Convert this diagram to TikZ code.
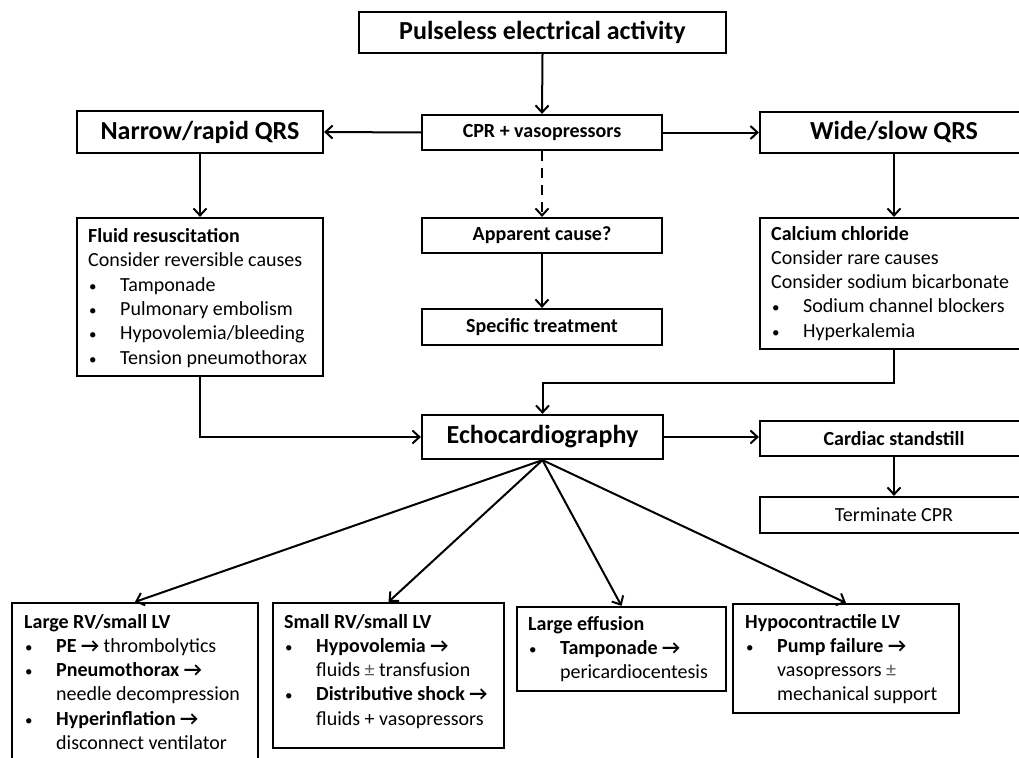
\documentclass[tikz,border=0pt]{standalone}
\usepackage{fontspec}
\setmainfont{Carlito}
\usetikzlibrary{arrows.meta}
\begin{document}
\begin{tikzpicture}[x=1pt,y=-1pt,
  box/.style={draw, line width=2.2pt, inner sep=0pt},
  big/.style={font=\fontsize{26}{31}\selectfont\bfseries},
  med/.style={font=\fontsize{20}{24}\selectfont\bfseries},
  body/.style={font=\fontsize{20}{24.3}\selectfont, inner sep=0pt, anchor=base west, align=flush left},
  conn/.style={line width=2pt, -{Straight Barb[length=7pt,width=13pt,line width=2pt]}},
]
\useasboundingbox (0,0) rectangle (1019,757);
\clip (0,0) rectangle (1019,757);
\newcommand{\bul}{\makebox[32pt][l]{\hspace*{1pt}{\fontsize{15}{15}\selectfont\textbullet}}}
\newcommand{\ind}{\hspace*{32pt}}
\newcommand{\pmg}{\textcolor{black!65}{±}}

% top row
\node[box, big, minimum width=367pt, minimum height=41pt] (pea) at (542.5,32.5) {Pulseless electrical activity};
\node[box, med, minimum width=240pt, minimum height=35pt] (cpr) at (542,132.5) {CPR + vasopressors};
\node[box, big, minimum width=246pt, minimum height=42pt] (narrow) at (200,132) {Narrow/rapid QRS};
\node[box, big, minimum width=268pt, minimum height=41pt] (wide) at (894,132.5) {Wide/slow QRS};

% second row
\node[box, minimum width=246pt, minimum height=158pt] (fluid) at (200,297) {};
\node[body, text width=230pt] (fluidt) at (88,242.5) {\textbf{Fluid resuscitation}\\
Consider reversible causes\\
\bul Tamponade\\
\bul Pulmonary embolism\\
\bul Hypovolemia/bleeding\\
\bul Tension pneumothorax};

\node[box, med, minimum width=240pt, minimum height=35pt] (app) at (542,235.5) {Apparent cause?};
\node[box, med, minimum width=240pt, minimum height=36pt] (spec) at (542,327) {Specific treatment};

\node[box, minimum width=268pt, minimum height=131pt] (calc) at (894,283.5) {};
\node[body, text width=250pt] (calct) at (771,240) {\textbf{Calcium chloride}\\
Consider rare causes\\
Consider sodium bicarbonate\\
\bul Sodium channel blockers\\
\bul Hyperkalemia};

% echo row
\node[box, big, minimum width=241pt, minimum height=44pt] (echo) at (542.5,437) {Echocardiography};
\node[box, med, minimum width=268pt, minimum height=35pt] (stand) at (894,438.5) {Cardiac standstill};
\node[box, font=\fontsize{20}{24}\selectfont, minimum width=268pt, minimum height=36pt] (term) at (894,515) {Terminate CPR};

% bottom row
\node[box, minimum width=246pt, minimum height=165pt] (lrv) at (135,685.5) {};
\node[body, text width=230pt] (lrvt) at (24,628) {\textbf{Large RV/small LV}\\
\bul\textbf{PE →} thrombolytics\\
\bul\textbf{Pneumothorax →}\\
\ind needle decompression\\
\bul\textbf{Hyperinflation →}\\
\ind disconnect ventilator};

\node[box, minimum width=231pt, minimum height=145pt] (srv) at (388.5,675.5) {};
\node[body, text width=215pt] (srvt) at (284,628) {\textbf{Small RV/small LV}\\
\bul\textbf{Hypovolemia →}\\
\ind fluids \pmg{} transfusion\\
\bul\textbf{Distributive shock →}\\
\ind fluids + vasopressors};

\node[box, minimum width=209pt, minimum height=84pt] (eff) at (621.5,649) {};
\node[body, text width=195pt] (efft) at (528,630) {\textbf{Large effusion}\\
\bul\textbf{Tamponade →}\\
\ind pericardiocentesis};

\node[box, minimum width=226pt, minimum height=109pt] (hypo) at (846,658.5) {};
\node[body, text width=212pt] (hypot) at (745,628) {\textbf{Hypocontractile LV}\\
\bul\textbf{Pump failure →}\\
\ind vasopressors \pmg\\
\ind mechanical support};

% connectors
\coordinate (cj) at (700,383);
\draw[conn] (pea.south) -- (cpr.north);
\draw[conn] (cpr.west) -- (narrow.east);
\draw[conn] (cpr.east) -- (wide.west);
\draw[conn, dash pattern=on 10pt off 7pt] (cpr.south) -- (app.north);
\draw[conn] (app.south) -- (spec.north);
\draw[conn] (narrow.south) -- (fluid.north);
\draw[conn] (wide.south) -- (calc.north);
\draw[conn] (fluid.south) |- (echo.west);
\draw[conn] (calc.south) |- (cj) -| (echo.north);
\draw[conn] (echo.east) -- (echo.east -| stand.west);
\draw[conn] (stand.south) -- (term.north);
\draw[conn] (echo.south) -- (lrv.north);
\draw[conn] (echo.south) -- (srv.north);
\draw[conn] (echo.south) -- (eff.north);
\draw[conn] (echo.south) -- (hypo.north);
\end{tikzpicture}
\end{document}
